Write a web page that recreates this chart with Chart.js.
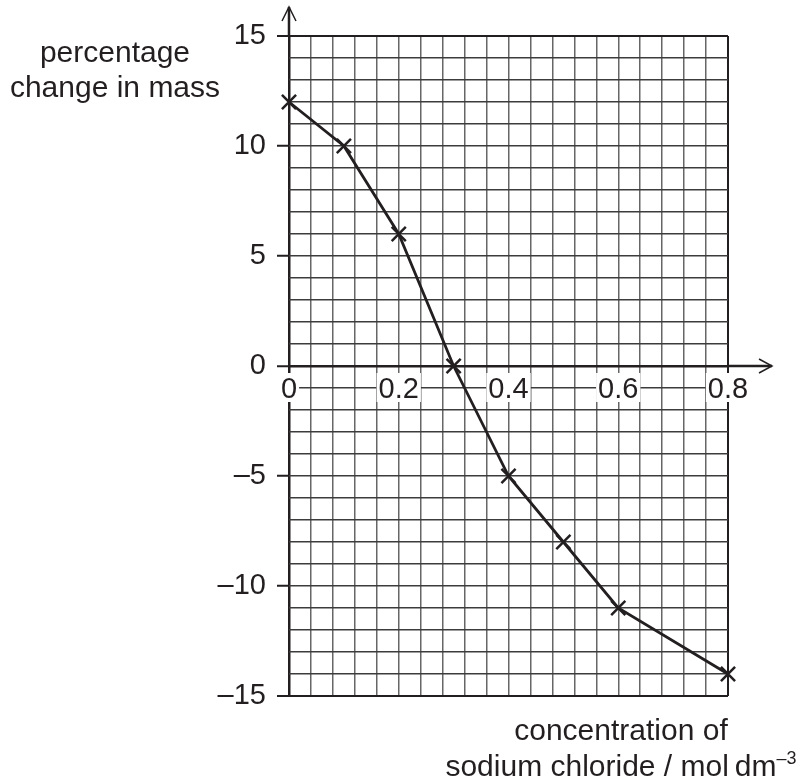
<!DOCTYPE html>
<html>
<head>
<meta charset="utf-8">
<script src="https://cdn.jsdelivr.net/npm/chart.js@4"></script>
<style>
  html, body { margin: 0; padding: 0; background: #fff; }
  #wrap { position: relative; width: 809px; height: 783px; }
  #graph { position: absolute; left: 0; top: 0; }
  .label {
    position: absolute;
    font-family: "Liberation Sans", Arial, sans-serif;
    font-size: 30px;
    color: #231f20;
    text-align: center;
    white-space: nowrap;
  }
  #yTitle { left: 0; top: 35px; width: 230px; line-height: 34.5px; }
  #xTitle { left: 421px; top: 712px; width: 400px; line-height: 36px; }
  #xTitle sup { font-size: 18px; line-height: 0; vertical-align: 0; position: relative; top: -12px; }
</style>
</head>
<body>
<div id="wrap">
  <canvas id="graph" width="809" height="783"></canvas>
  <div class="label" id="yTitle">percentage<br>change in mass</div>
  <div class="label" id="xTitle">concentration of<br>sodium chloride / mol&thinsp;dm<sup>–3</sup></div>
</div>
<script>
// Dados
const concentration = [0, 0.1, 0.2, 0.3, 0.4, 0.5, 0.6, 0.8];
const massChange = [12, 10, 6, 0, -5, -8, -11, -14];
const yTickLabels = [15, 10, 5, 0, -5, -10, -15];
const xTickLabels = [0, 0.2, 0.4, 0.6, 0.8];

const ink = "#231f20";
const font = '"Liberation Sans", Arial, sans-serif';

const isMajorY = v => yTickLabels.includes(v);
const near = (a, b) => Math.abs(a - b) < 1e-6;

// Eixos com setas e rótulos do eixo x sobre a linha do zero
const axisExtras = {
  id: "axisExtras",
  afterDraw(chart) {
    const { ctx, chartArea, scales: { x, y } } = chart;
    const x0 = x.getPixelForValue(0);
    const y0 = y.getPixelForValue(0);
    const topTip = chartArea.top - 29;
    const rightTip = chartArea.right + 44;

    ctx.save();
    ctx.strokeStyle = ink;
    ctx.lineWidth = 2.5;
    ctx.beginPath();
    ctx.moveTo(x0, chartArea.top);
    ctx.lineTo(x0, topTip);
    ctx.moveTo(chartArea.right, y0);
    ctx.lineTo(rightTip, y0);
    ctx.stroke();

    ctx.lineWidth = 1.5;
    ctx.beginPath();
    ctx.moveTo(x0 - 7, topTip + 14);
    ctx.lineTo(x0, topTip);
    ctx.lineTo(x0 + 7, topTip + 14);
    ctx.moveTo(rightTip - 13, y0 - 7);
    ctx.lineTo(rightTip, y0);
    ctx.lineTo(rightTip - 13, y0 + 7);
    ctx.stroke();

    ctx.font = "29px " + font;
    ctx.textAlign = "center";
    ctx.textBaseline = "middle";
    xTickLabels.forEach(v => {
      const px = x.getPixelForValue(v);
      const text = String(v);
      const w = ctx.measureText(text).width;
      ctx.fillStyle = "#fff";
      ctx.fillRect(px - w / 2 - 2, y0 + 7, w + 4, 29);
      ctx.fillStyle = ink;
      ctx.fillText(text, px, y0 + 24);
    });
    ctx.restore();
  }
};

new Chart(document.getElementById("graph"), {
  type: "line",
  data: {
    datasets: [{
      data: concentration.map((c, i) => ({ x: c, y: massChange[i] })),
      borderColor: ink,
      borderWidth: 2.8,
      tension: 0,
      clip: false,
      pointStyle: "crossRot",
      pointRadius: 10,
      pointBorderWidth: 2.5,
      pointBorderColor: ink,
      pointBackgroundColor: ink
    }]
  },
  options: {
    responsive: false,
    animation: false,
    layout: { padding: { left: 0, top: 36, right: 81, bottom: 87 } },
    plugins: { legend: { display: false }, tooltip: { enabled: false } },
    scales: {
      x: {
        type: "linear",
        min: 0,
        max: 0.8,
        border: { display: false },
        ticks: { stepSize: 0.04, display: false, autoSkip: false },
        grid: {
          drawTicks: false,
          color: c => (near(c.tick.value, 0) || near(c.tick.value, 0.8)) ? ink : "#666666",
          lineWidth: c => near(c.tick.value, 0) ? 2.5 : near(c.tick.value, 0.8) ? 2 : 1.5
        },
        afterFit: s => { s.height = 0; }
      },
      y: {
        type: "linear",
        min: -15,
        max: 15,
        border: { display: false },
        ticks: {
          stepSize: 1,
          autoSkip: false,
          padding: 11,
          color: ink,
          font: { family: font, size: 29 },
          callback: v => isMajorY(v) ? String(v).replace("-", "–") : ""
        },
        grid: {
          tickLength: 12,
          color: c => (c.tick.value === 0 || Math.abs(c.tick.value) === 15) ? ink : "#3c3c3c",
          lineWidth: c => c.tick.value === 0 ? 2.5 : Math.abs(c.tick.value) === 15 ? 2 : 1.5,
          tickColor: c => isMajorY(c.tick.value) ? ink : "rgba(0,0,0,0)",
          tickWidth: 2
        },
        afterFit: s => { s.width = 289; }
      }
    }
  },
  plugins: [axisExtras]
});
</script>
</body>
</html>
